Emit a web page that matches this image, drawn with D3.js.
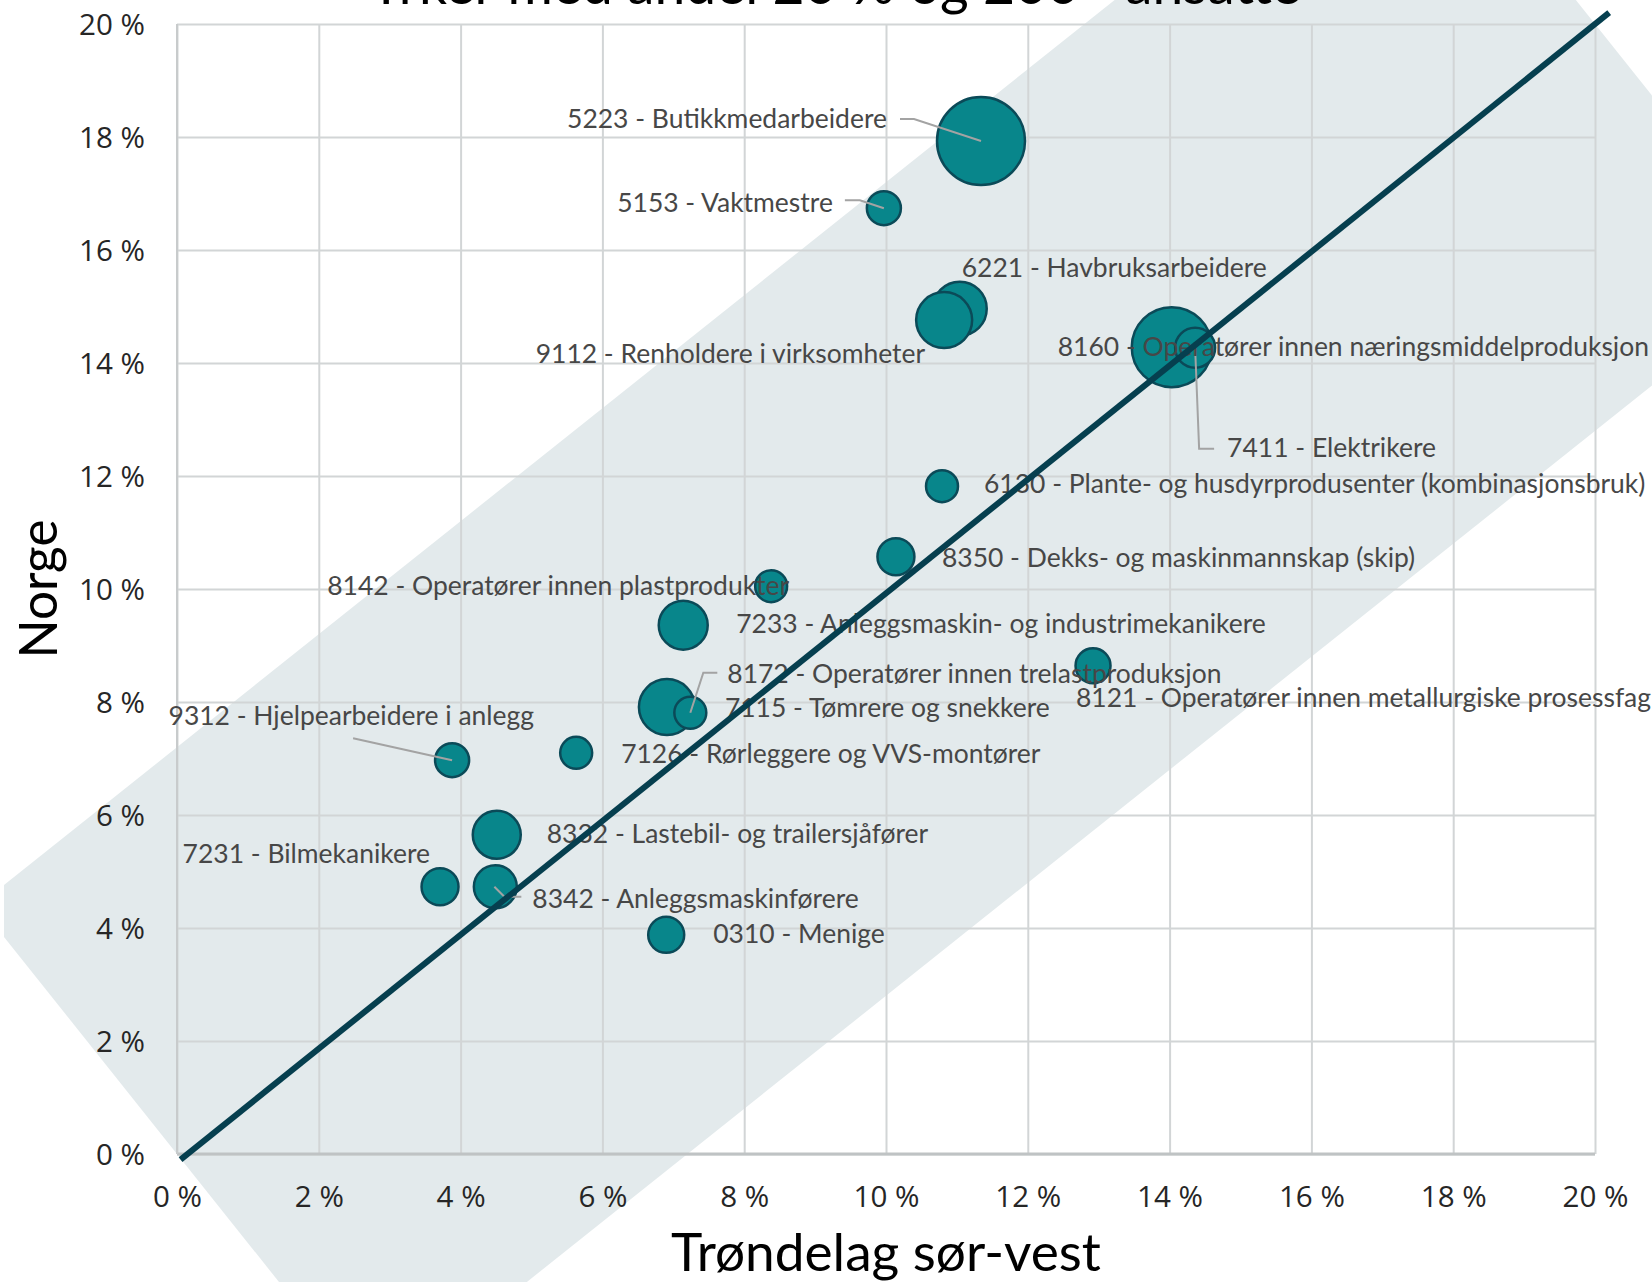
<!DOCTYPE html>
<html><head><meta charset="utf-8">
<script src="https://cdn.jsdelivr.net/npm/d3@7"></script>
<style>body{margin:0;background:#fff;} svg{display:block;}</style>
</head><body><svg id="chart" width="1652" height="1282"></svg>
<script>
// ---------- DATA ----------
const titleText = "Yrker med andel 20 % og 200+ ansatte";
const xTitle = "Trøndelag sør-vest";
const yTitle = "Norge";
const tickValues = [0, 2, 4, 6, 8, 10, 12, 14, 16, 18, 20];
const codes = ["5223","5153","6221","9112","8160","7411","6130","8350","8142","7233","8121","7115","8172","7126","9312","8332","7231","8342","0310"];
const names = ["Butikkmedarbeidere","Vaktmestre","Havbruksarbeidere","Renholdere i virksomheter",
  "Operatører innen næringsmiddelproduksjon","Elektrikere","Plante- og husdyrprodusenter (kombinasjonsbruk)",
  "Dekks- og maskinmannskap (skip)","Operatører innen plastprodukter","Anleggsmaskin- og industrimekanikere",
  "Operatører innen metallurgiske prosessfag","Tømrere og snekkere","Operatører innen trelastproduksjon",
  "Rørleggere og VVS-montører","Hjelpearbeidere i anlegg","Lastebil- og trailersjåfører","Bilmekanikere",
  "Anleggsmaskinførere","Menige"];
const trondelagSorVest = [11.34, 9.97, 11.04, 10.82, 14.03, 14.36, 10.79, 10.14, 8.38, 7.14, 12.92, 6.91, 7.24, 5.63, 3.88, 4.51, 3.71, 4.49, 6.90];
const norge = [17.93, 16.74, 14.96, 14.76, 14.28, 14.27, 11.82, 10.57, 10.05, 9.36, 8.64, 7.91, 7.81, 7.10, 6.97, 5.65, 4.73, 4.73, 3.88];
const ansatte = [2000, 299, 753, 810, 1653, 413, 264, 353, 264, 620, 316, 810, 264, 264, 299, 595, 353, 477, 335];
const bandWidthPct = 7.2;

// ---------- LAYOUT (label placement, px offsets from bubble centre) ----------
const labelLayout = [
  {anchor:"end", dx:-94, dy:-13, leader:[[-81,-22],[-67,-22],[0,0]]},
  {anchor:"end", dx:-51, dy:4, leader:[[-39,-8],[-24,-8],[0,0]]},
  {anchor:"start", dx:2, dy:-32},
  {anchor:"end", dx:-19, dy:43},
  {anchor:"start", dx:-114, dy:9},
  {anchor:"start", dx:32, dy:109, leader:[[0,0],[4,101],[19,101]]},
  {anchor:"start", dx:42, dy:7},
  {anchor:"start", dx:46, dy:10},
  {anchor:"end", dx:18, dy:9},
  {anchor:"start", dx:53, dy:8},
  {anchor:"start", dx:-17, dy:41},
  {anchor:"start", dx:58, dy:10},
  {anchor:"start", dx:37, dy:-30, leader:[[0,0],[13,-40],[27,-40]]},
  {anchor:"start", dx:45, dy:10},
  {anchor:"end", dx:82, dy:-35, leader:[[-99,-22],[0,0]]},
  {anchor:"start", dx:50, dy:8},
  {anchor:"end", dx:-10, dy:-24},
  {anchor:"start", dx:37, dy:21, leader:[[-1,0],[9,10],[26,10]]},
  {anchor:"start", dx:47, dy:8}
];

const W = 1652, H = 1282;
const plot = {left:177, right:1595, top:24, bottom:1154};
const labelFont = "Lato, 'Open Sans', sans-serif";
const tickFont = "'Open Sans', sans-serif";
const titleFont = "Lato, 'Open Sans', sans-serif";

const svg = d3.select("#chart");
const x = d3.scaleLinear().domain([0, 20]).range([plot.left, plot.right]);
const y = d3.scaleLinear().domain([0, 20]).range([plot.bottom, plot.top]);
const r = d3.scaleSqrt().domain([0, d3.max(ansatte)]).range([0, 44]);

function fitSize(family, text, target, base = 40) {
  const t = svg.append("text").attr("font-family", family).attr("font-size", base).text(text);
  const w = t.node().getComputedTextLength();
  t.remove();
  return base * target / w;
}
const labelSize = fitSize(labelFont, "5223 - Butikkmedarbeidere", 320);
const tickSize = fitSize(tickFont, "10 %", 66);
const xTitleSize = fitSize(titleFont, xTitle, 430);
const yTitleSize = fitSize(titleFont, yTitle, 139);
const titleSize = fitSize(titleFont, titleText, 932);

// ---------- BAND ----------
const p0 = [x(0), y(0)], p1 = [x(20), y(20)];
const len = Math.hypot(p1[0]-p0[0], p1[1]-p0[1]);
const dir = [(p1[0]-p0[0])/len, (p1[1]-p0[1])/len];
const perp = [-dir[1], dir[0]];
const h = y(0) - y(bandWidthPct);
const dist = h * Math.abs(dir[0]);
const corners = [
  [p0[0]+perp[0]*dist, p0[1]+perp[1]*dist],
  [p1[0]+perp[0]*dist, p1[1]+perp[1]*dist],
  [p1[0]-perp[0]*dist, p1[1]-perp[1]*dist],
  [p0[0]-perp[0]*dist, p0[1]-perp[1]*dist]
];
svg.append("defs").append("clipPath").attr("id", "clipBand")
  .append("rect").attr("x", 4).attr("y", 0).attr("width", W-4).attr("height", H);
svg.append("path").attr("d", "M" + corners.map(c => c.join(",")).join("L") + "Z")
  .attr("fill", "#e3eaec").attr("clip-path", "url(#clipBand)");

// ---------- TITLE (cut off at top, as in the original) ----------
svg.append("text").attr("x", 835).attr("y", 4).attr("text-anchor", "middle")
  .attr("font-family", titleFont).attr("font-size", titleSize).attr("fill", "#000").text(titleText);

// ---------- AXES / GRID ----------
const fmt = d => d + " %";
const gx = svg.append("g").attr("transform", `translate(0,${plot.bottom})`)
  .call(d3.axisBottom(x).tickValues(tickValues).tickFormat(fmt).tickSize(-(plot.bottom-plot.top)).tickPadding(0));
gx.select(".domain").remove();
gx.selectAll("line").attr("stroke", "#d2d5d6").attr("stroke-width", 2);
gx.selectAll("text").attr("y", 53).attr("dy", 0).attr("font-family", tickFont).attr("font-size", tickSize).attr("fill", "#262626");

const gy = svg.append("g").attr("transform", `translate(${plot.left},0)`)
  .call(d3.axisLeft(y).tickValues(tickValues).tickFormat(fmt).tickSize(-(plot.right-plot.left)).tickPadding(32));
gy.select(".domain").remove();
gy.selectAll("line").attr("stroke", "#d2d5d6").attr("stroke-width", 2);
gy.selectAll("text").attr("dy", "0.36em").attr("font-family", tickFont).attr("font-size", tickSize).attr("fill", "#262626");

svg.append("line").attr("x1", x(0)).attr("x2", x(20)).attr("y1", y(0)).attr("y2", y(0))
  .attr("stroke", "#bfc3c4").attr("stroke-width", 3);
svg.append("line").attr("x1", x(0)).attr("x2", x(0)).attr("y1", y(0)).attr("y2", y(20))
  .attr("stroke", "#c8cbcc").attr("stroke-width", 2);

svg.append("text").attr("x", (plot.left+plot.right)/2).attr("y", 1271).attr("text-anchor", "middle")
  .attr("font-family", titleFont).attr("font-size", xTitleSize).attr("fill", "#000").text(xTitle);
svg.append("text").attr("transform", `translate(57,${(plot.top+plot.bottom)/2}) rotate(-90)`).attr("text-anchor", "middle")
  .attr("font-family", titleFont).attr("font-size", yTitleSize).attr("fill", "#000").text(yTitle);

// ---------- BUBBLES ----------
const data = codes.map((c, i) => ({code:c, name:names[i], tx:trondelagSorVest[i], no:norge[i], n:ansatte[i], lay:labelLayout[i]}));
svg.append("g").selectAll("circle").data(data).join("circle")
  .attr("cx", d => x(d.tx)).attr("cy", d => y(d.no)).attr("r", d => r(d.n))
  .attr("fill", "#08868b").attr("stroke", "#0b4a58").attr("stroke-width", 2.5);

// leaders
const lineGen = d3.line();
svg.append("g").selectAll("path").data(data.filter(d => d.lay.leader)).join("path")
  .attr("d", d => lineGen(d.lay.leader.map(p => [x(d.tx)+p[0], y(d.no)+p[1]])))
  .attr("fill", "none").attr("stroke", "#a3a3a3").attr("stroke-width", 2);

// labels
svg.append("g").selectAll("text").data(data).join("text")
  .attr("x", d => x(d.tx) + d.lay.dx).attr("y", d => y(d.no) + d.lay.dy)
  .attr("text-anchor", d => d.lay.anchor)
  .attr("font-family", labelFont).attr("font-size", labelSize).attr("fill", "#474747")
  .text(d => `${d.code} - ${d.name}`);

// ---------- DIAGONAL ----------
svg.append("line").attr("x1", x(0.05)).attr("y1", y(-0.1)).attr("x2", x(20.2)).attr("y2", y(20.2))
  .attr("stroke", "#063f4f").attr("stroke-width", 6);
</script></body></html>
